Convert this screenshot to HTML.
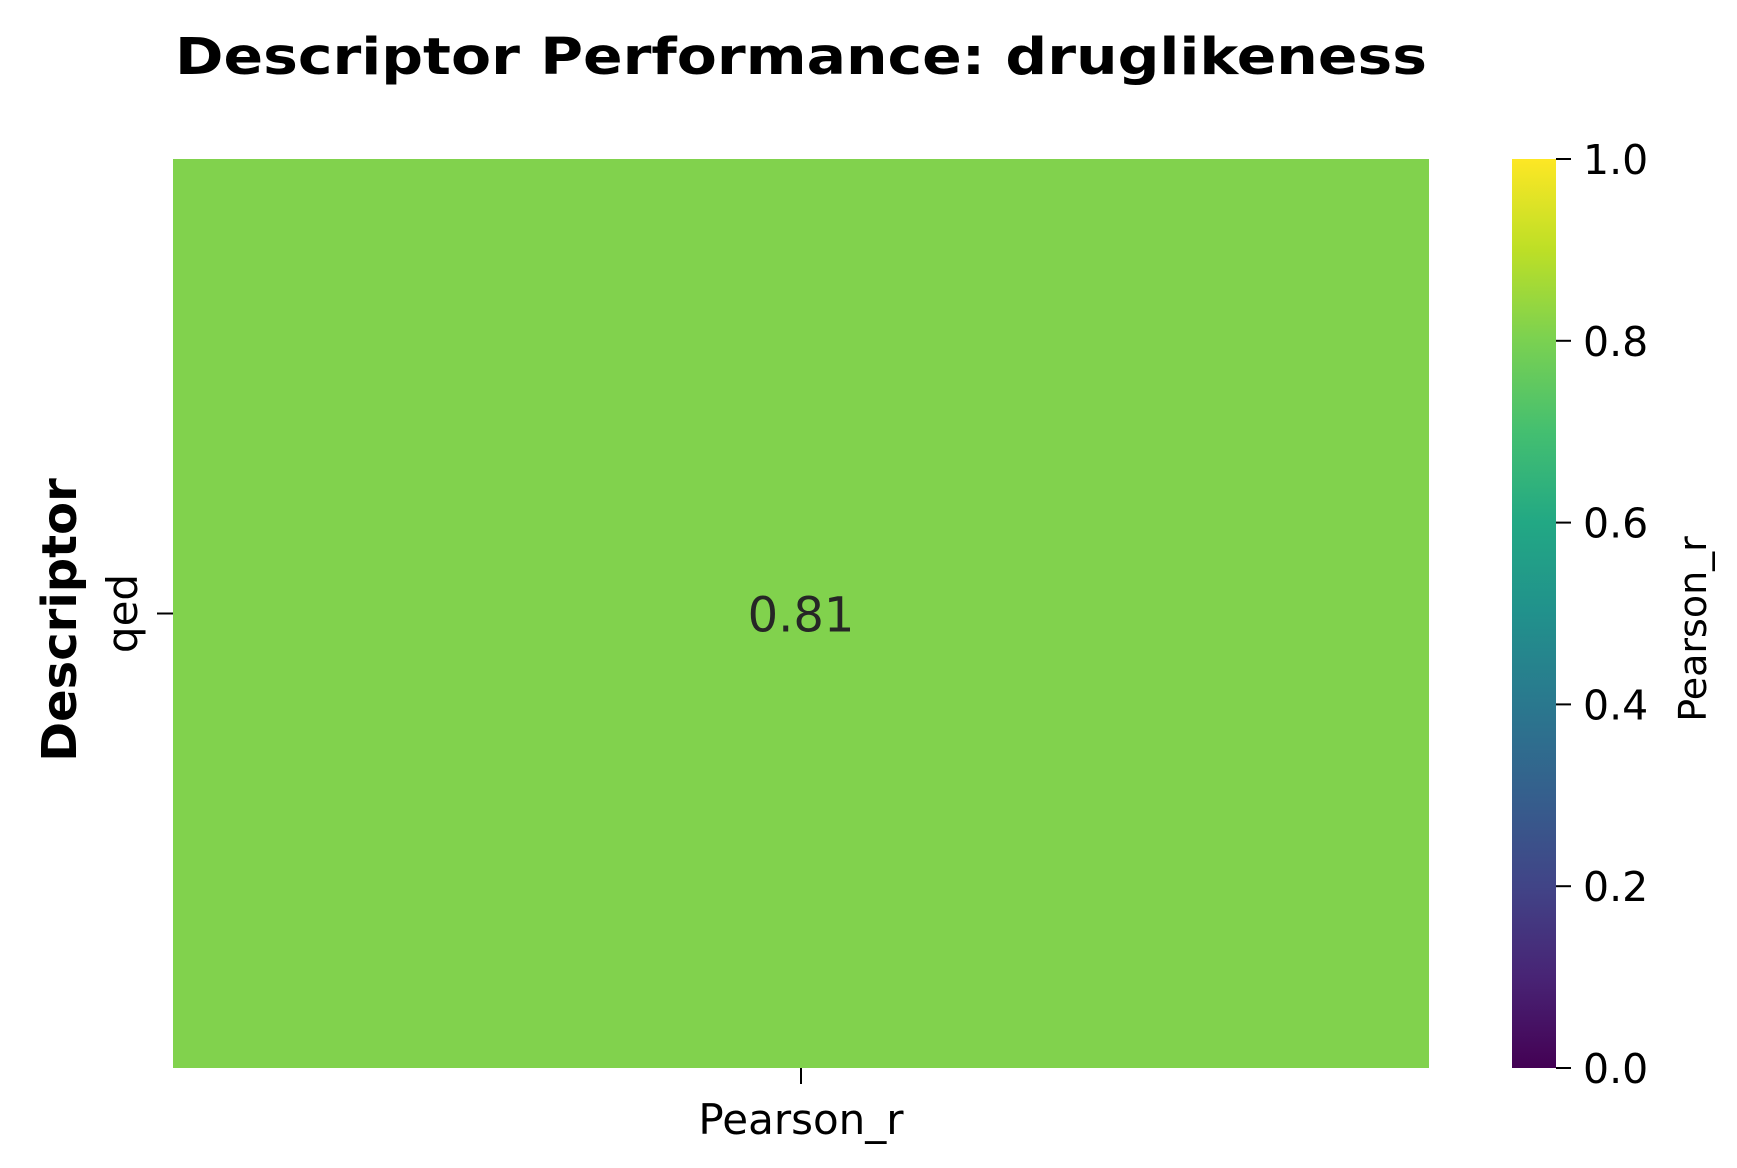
<!DOCTYPE html>
<html><head><meta charset="utf-8"><style>
html,body{margin:0;padding:0;background:#fff;}
svg{display:block;font-family:"DejaVu Sans","Liberation Sans",sans-serif;}
</style></head><body>
<svg id="chart" width="1737" height="1168" viewBox="0 0 1737 1168">
<defs>
<linearGradient id="viridis" x1="0" y1="1" x2="0" y2="0">
<stop offset="0" stop-color="#440154"/><stop offset="0.1" stop-color="#482475"/><stop offset="0.2" stop-color="#414487"/><stop offset="0.3" stop-color="#355f8d"/><stop offset="0.4" stop-color="#2a788e"/><stop offset="0.5" stop-color="#21918c"/><stop offset="0.6" stop-color="#22a884"/><stop offset="0.7" stop-color="#44bf70"/><stop offset="0.8" stop-color="#7ad151"/><stop offset="0.9" stop-color="#bddf26"/><stop offset="1" stop-color="#fde725"/>
</linearGradient>
</defs>
<text x="801" y="74" text-anchor="middle" font-size="51" font-weight="bold" textLength="1252" lengthAdjust="spacingAndGlyphs">Descriptor Performance: druglikeness</text>
<g id="cells"></g>
<g id="colorbar"></g>
</svg>
<script>
const rows = ["qed"];
const cols = ["Pearson_r"];
const values = [[0.81]];
const cbTicks = [0, 0.2, 0.4, 0.6, 0.8, 1.0];
const cbTickLabels = ["0.0", "0.2", "0.4", "0.6", "0.8", "1.0"];

const NS = "http://www.w3.org/2000/svg";
const cellsG = document.getElementById("cells");
const cbG = document.getElementById("colorbar");
const L = 173, R = 1437 - 8, T = 159, B = 1068;
const cw = (R - L) / cols.length, ch = (B - T) / rows.length;
const xPos = i => L + cw * i;
const yPos = j => T + ch * j;
const vmin = 0, vmax = 1;
const cbL = 1512, cbR = 1556, cbT = 159, cbB = 1068;
const cbY = v => cbB - (v - vmin) / (vmax - vmin) * (cbB - cbT);
const vir = ["#440154","#482475","#414487","#355f8d","#2a788e","#21918c","#22a884","#44bf70","#7ad151","#bddf26","#fde725"];
function hex(h){return [1,3,5].map(i=>parseInt(h.substr(i,2),16));}
function color(v){
  let t = Math.max(0, Math.min(1, (v - vmin) / (vmax - vmin))) * 10;
  let i = Math.min(9, Math.floor(t)), f = t - i;
  const a = hex(vir[i]), b = hex(vir[i+1]);
  return "rgb(" + a.map((c,k)=>Math.round(c + (b[k]-c)*f)).join(",") + ")";
}
function mk(tag, attrs, parent){
  const e = document.createElementNS(NS, tag);
  for (const k in attrs) e.setAttribute(k, attrs[k]);
  parent.appendChild(e); return e;
}
rows.forEach((r, j) => {
  cols.forEach((c, i) => {
    const v = values[j][i];
    const rect = mk("rect", {x: xPos(i), y: yPos(j), width: cw, height: ch, fill: color(v)}, cellsG);
    
    
    const t = mk("text", {x: xPos(i) + cw/2, y: yPos(j) + ch/2 + 18, "text-anchor": "middle", "font-size": "48", fill: "#262626"}, cellsG);
    t.textContent = v.toFixed(2);
    
    
  });
  const yc = yPos(j) + ch/2;
  const tk = mk("line", {x1: L - 16, x2: L, y1: yc, y2: yc, stroke: "#000", "stroke-width": 2}, cellsG);
  
  
  const lb = mk("text", {x: 0, y: 0, "text-anchor": "middle", "font-size": "42", transform: "translate(137," + yc + ") rotate(-90)"}, cellsG);
  lb.textContent = r;
  
  
});
cols.forEach((c, i) => {
  const xc = xPos(i) + cw/2;
  const tk = mk("line", {x1: xc, x2: xc, y1: B, y2: B + 16, stroke: "#000", "stroke-width": 2}, cellsG);
  
  
  const lb = mk("text", {x: xc, y: 1134, "text-anchor": "middle", "font-size": "42"}, cellsG);
  lb.textContent = c;
  
  
});
const yt = mk("text", {x: 0, y: 0, "text-anchor": "middle", "font-size": "48", "font-weight": "bold", transform: "translate(76,620) rotate(-90)"}, cellsG);
yt.textContent = "Descriptor";



const bar = mk("rect", {x: cbL, y: cbT, width: cbR - cbL, height: cbB - cbT, fill: "url(#viridis)"}, cbG);


cbTicks.forEach((v, k) => {
  const y = cbY(v);
  const tk = mk("line", {x1: cbR, x2: cbR + 15, y1: y, y2: y, stroke: "#000", "stroke-width": 2}, cbG);
  
  
  const lb = mk("text", {x: 1583, y: y + 15, "font-size": "41"}, cbG);
  lb.textContent = cbTickLabels[k];
  
  
});
const cbl = mk("text", {x: 0, y: 0, "text-anchor": "middle", "font-size": "38", transform: "translate(1706,629) rotate(-90)"}, cbG);
cbl.textContent = "Pearson_r";


</script>
</body></html>
